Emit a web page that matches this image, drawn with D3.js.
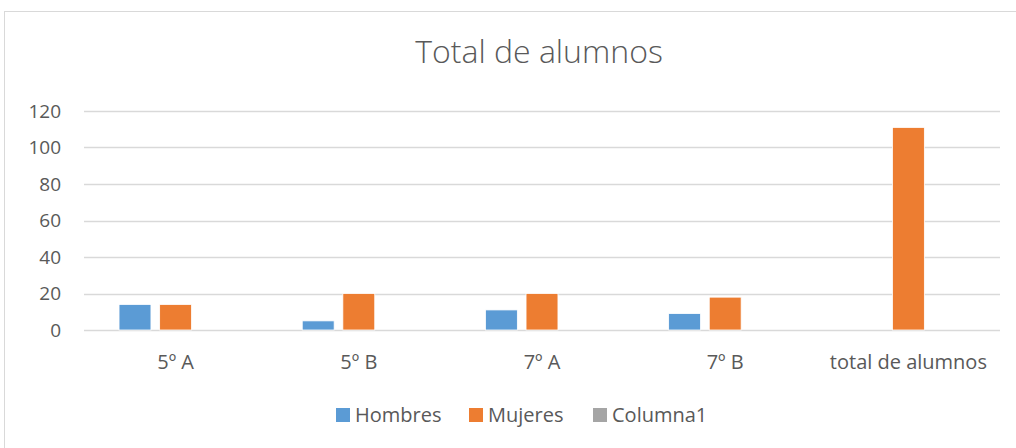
<!DOCTYPE html>
<html>
<head>
<meta charset="utf-8">
<script src="https://cdn.jsdelivr.net/npm/d3@7"></script>
<style>
  body { margin: 0; background: #fff; }
  svg { display: block; font-family: "Open Sans", "Noto Sans", sans-serif; }
</style>
</head>
<body>
<svg id="chart" width="1016" height="448"></svg>
<script>
const categories = ["5º A", "5º B", "7º A", "7º B", "total de alumnos"];
const seriesNames = ["Hombres", "Mujeres", "Columna1"];
const hombres = [14, 5, 11, 9, 0];
const mujeres = [14, 20, 20, 18, 111];
const columna1 = [0, 0, 0, 0, 0];
const yTicks = [0, 20, 40, 60, 80, 100, 120];
const colors = ["#5B9BD5", "#ED7D31", "#A5A5A5"];

const svg = d3.select("#chart"),
      margin = { top: 111, right: 16, bottom: 118, left: 84 },
      width = +svg.attr("width") - margin.left - margin.right,
      height = +svg.attr("height") - margin.top - margin.bottom;

const values = [hombres, mujeres, columna1];
const rows = categories.map((c, i) => ({
    cat: c,
    vals: seriesNames.map((s, j) => ({ key: s, value: values[j][i], idx: j }))
}));

// chart area border
svg.append("rect")
    .attr("x", 4.5).attr("y", 11.5)
    .attr("width", 1020).attr("height", 450)
    .attr("fill", "none")
    .attr("stroke", "#d9d9d9");

// title
svg.append("text")
    .attr("x", margin.left + width / 2 - 3)
    .attr("y", 63)
    .attr("text-anchor", "middle")
    .attr("font-size", "32px")
    .attr("font-weight", 300)
    .attr("fill", "#595959")
    .text("Total de alumnos");

const g = svg.append("g")
    .attr("transform", `translate(${margin.left},${margin.top})`);

const x0 = d3.scaleBand()
    .domain(categories)
    .range([0, width])
    .paddingInner(0.335)
    .paddingOuter(0.1675);

const x1 = d3.scaleBand()
    .domain(seriesNames)
    .range([0, x0.bandwidth()])
    .paddingInner(0.214)
    .paddingOuter(0.107);

const y = d3.scaleLinear()
    .domain([0, 120])
    .range([height, 0]);

// gridlines
g.selectAll(".grid")
    .data(yTicks)
    .enter()
    .append("line")
    .attr("x1", 0)
    .attr("x2", width)
    .attr("y1", d => Math.round(y(d)) + 0.5)
    .attr("y2", d => Math.round(y(d)) + 0.5)
    .attr("stroke", "#d9d9d9")
    .attr("stroke-width", 1.3);

// Y Axis
const yAxis = g.append("g")
    .call(d3.axisLeft(y).tickValues(yTicks).tickSize(0).tickPadding(23));
yAxis.select(".domain").remove();
yAxis.selectAll("text")
    .attr("font-size", "19px")
    .attr("font-family", "\"Open Sans\", \"Noto Sans\", sans-serif")
    .attr("fill", "#595959");

// X Axis
const xAxis = g.append("g")
    .attr("transform", `translate(0,${height})`)
    .call(d3.axisBottom(x0).tickSize(0).tickPadding(25));
xAxis.select(".domain").remove();
xAxis.selectAll("text")
    .attr("font-size", "20px")
    .attr("font-family", "\"Open Sans\", \"Noto Sans\", sans-serif")
    .attr("fill", "#595959");

// Bars
g.selectAll(".group")
    .data(rows)
    .enter()
    .append("g")
    .attr("transform", d => `translate(${x0(d.cat)},0)`)
    .selectAll("rect")
    .data(d => d.vals)
    .enter()
    .append("rect")
    .attr("x", d => x1(d.key))
    .attr("width", x1.bandwidth())
    .attr("y", d => y(d.value))
    .attr("height", d => height - y(d.value))
    .attr("fill", d => colors[d.idx])
    .attr("stroke", "#fff")
    .attr("stroke-width", 0.8);

// Legend
const legendX = [336, 469, 593];
const legend = svg.append("g");
seriesNames.forEach((s, i) => {
    legend.append("rect")
        .attr("x", legendX[i])
        .attr("y", 408)
        .attr("width", 14)
        .attr("height", 14)
        .attr("fill", colors[i]);
    legend.append("text")
        .attr("x", legendX[i] + 19)
        .attr("y", 422)
        .attr("font-size", "20px")
        .attr("fill", "#595959")
        .text(s);
});
</script>
</body>
</html>
